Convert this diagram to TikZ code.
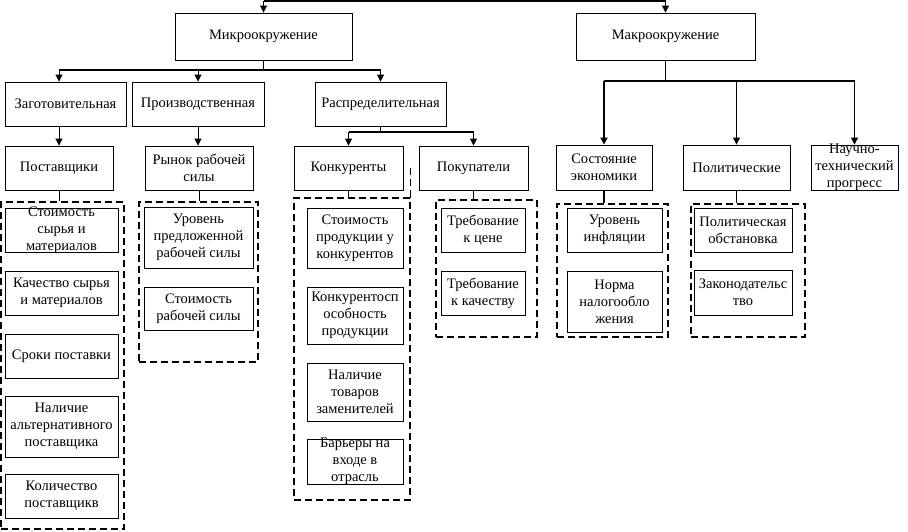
\documentclass[tikz,border=0pt]{standalone}
\usepackage{fontspec}
\setmainfont{Liberation Serif}
\usetikzlibrary{arrows.meta}

\tikzset{
  box/.style={draw, line width=0.9pt, inner sep=0pt, align=center, font=\fontsize{14.5}{17}\selectfont},
  frame/.style={draw, line width=0.9pt, inner sep=0pt},
  txt/.style={inner sep=0pt, align=center, font=\fontsize{14.5}{17}\selectfont},
  group/.style={draw, line width=1.3pt, dash pattern=on 7pt off 4pt, inner sep=0pt},
  link/.style={line width=0.9pt},
  arr/.style={line width=0.9pt, -{Triangle[length=7pt,width=7pt]}},
  bar/.style={line width=2pt},
}

\begin{document}
\begin{tikzpicture}[x=1pt, y=-1pt]
		\useasboundingbox (0,0) rectangle (908,531);
		% Top level.
		\node[box, minimum width=177, minimum height=47] (micro) at (263.5,36.5) {Микроокружение};
		\node[box, minimum width=179, minimum height=47] (macro) at (665.5,36.5) {Макроокружение};
		
		% Micro branches.
		\node[box, minimum width=121, minimum height=44] (zag) at (65.5,104) {Заготовительная};
		\node[box, minimum width=132, minimum height=44] (proizv) at (198,104) {Производственная};
		\node[box, minimum width=131, minimum height=44] (raspr) at (380.5,104) {Распределительная};
		
		\node[box, minimum width=108, minimum height=44] (post) at (59,168) {Поставщики};
		\node[box, minimum width=108, minimum height=44] (rynok) at (199,168) {Рынок рабочей\\силы};
		\node[box, minimum width=109, minimum height=44] (konk) at (348.5,168) {Конкуренты};
		\node[box, minimum width=109, minimum height=44] (pokup) at (473.5,168) {Покупатели};
		
		% Macro branches.
		\node[box, minimum width=96, minimum height=45] (sost) at (604,167.5) {Состояние\\экономики};
		\node[box, minimum width=107, minimum height=45] (polit) at (736.5,167.5) {Политические};
		\node[frame, minimum width=87, minimum height=45] (nauch) at (854.5,167.5) {};
		\node[txt] at (nauch) {Научно-\\технический\\прогресс};
		
		% Dashed groups.
		\node[group, minimum width=123, minimum height=327] (gpost) at (62.5,365.5) {};
		\node[group, minimum width=119, minimum height=160] (grynok) at (198.5,282) {};
		\node[group, minimum width=116, minimum height=302] (gkonk) at (352,349) {};
		\node[group, minimum width=101, minimum height=137] (gpokup) at (486.5,268.5) {};
		\node[group, minimum width=111, minimum height=133] (gsost) at (612.5,270.5) {};
		\node[group, minimum width=114, minimum height=133] (gpolit) at (748,270.5) {};
		\draw[group] (gkonk.north east) -- ++(0,-30);
		
		% Suppliers.
		\node[frame, minimum width=113, minimum height=44] (p1) at (61.5,230) {};
		\node[txt] at (p1) {Стоимость\\сырья и\\материалов};
		\node[box, minimum width=113, minimum height=44] (p2) at (61.5,293) {Качество сырья\\и материалов};
		\node[box, minimum width=113, minimum height=44] (p3) at (61.5,356) {Сроки поставки};
		\node[box, minimum width=113, minimum height=61] (p4) at (61.5,426.5) {Наличие\\альтернативного\\поставщика};
		\node[box, minimum width=113, minimum height=44] (p5) at (61.5,496) {Количество\\поставщикв};
		
		% Labour market.
		\node[box, minimum width=109, minimum height=61] (r1) at (198.5,237.5) {Уровень\\предложенной\\рабочей силы};
		\node[box, minimum width=109, minimum height=43] (r2) at (198.5,308.5) {Стоимость\\рабочей силы};
		
		% Competitors.
		\node[box, minimum width=96, minimum height=60] (k1) at (355,238) {Стоимость\\продукции у\\конкурентов};
		\node[box, minimum width=96, minimum height=57] (k2) at (355,315.5) {Конкурентосп\\особность\\продукции};
		\node[box, minimum width=96, minimum height=58] (k3) at (355,392) {Наличие\\товаров\\заменителей};
		\node[frame, minimum width=96, minimum height=45] (k4) at (355,461.5) {};
		\node[txt] at (k4) {Барьеры на\\входе в\\отрасль};
		
		% Buyers.
		\node[box, minimum width=84, minimum height=44] (c1) at (483,230) {Требование\\к цене};
		\node[box, minimum width=84, minimum height=44] (c2) at (483,293) {Требование\\к качеству};
		
		% Economy.
		\node[box, minimum width=95, minimum height=44] (s1) at (614.5,230) {Уровень\\инфляции};
		\node[box, minimum width=95, minimum height=61] (s2) at (614.5,301.5) {Норма\\налогообло\\жения};
		
		% Politics.
		\node[box, minimum width=98, minimum height=44] (l1) at (743,230) {Политическая\\обстановка};
		\node[box, minimum width=98, minimum height=45] (l2) at (743,292.5) {Законодательс\\тво};
		
		% Connectors.
		\coordinate (topl) at (263.5,1);
		\coordinate (topr) at (665.5,1);
		\draw[bar] (topl) -- (topr);
		\draw[arr] (topl) -- (micro.north);
		\draw[arr] (topr) -- (macro.north);
		
		\draw[arr] (micro.south) -- ++(0,10) coordinate (mbar) -| (zag.north -| post);
		\draw[arr] (mbar) -| (proizv.north);
		\draw[arr] (mbar) -| (raspr.north);
		\draw[bar] (mbar -| post) -- (mbar -| raspr);
		
		\draw[arr] (zag.south -| post) -- (post.north);
		\draw[arr] (proizv.south) -- (proizv.south |- rynok.north);
		\draw[arr] (raspr.south) -- ++(0,6) coordinate (rbar) -| (konk.north);
		\draw[arr] (rbar) -| (pokup.north);
		\draw[bar] (rbar -| konk) -- (rbar -| pokup);
		
		\draw[link] (macro.south) -- ++(0,21) coordinate (mcbar);
		\draw[arr, line width=1.8pt] (mcbar) -| (sost.north);
		\draw[arr] (mcbar) -| (polit.north);
		\draw[arr] (mcbar) -| (nauch.north);
		\draw[bar] (mcbar -| sost) -- (mcbar -| nauch);
		
		\draw[link] (post.south) -- (post.south |- gpost.north);
		\draw[link] (rynok.south) -- (rynok.south |- grynok.north);
		\draw[link] (konk.south) -- (konk.south |- gkonk.north);
		\draw[link] (pokup.south) -- (pokup.south |- gpokup.north);
		\draw[link, line width=1.8pt] (sost.south) -- (sost.south |- gsost.north);
		\draw[link] (polit.south) -- (polit.south |- gpolit.north);
	\end{tikzpicture}
\end{document}
